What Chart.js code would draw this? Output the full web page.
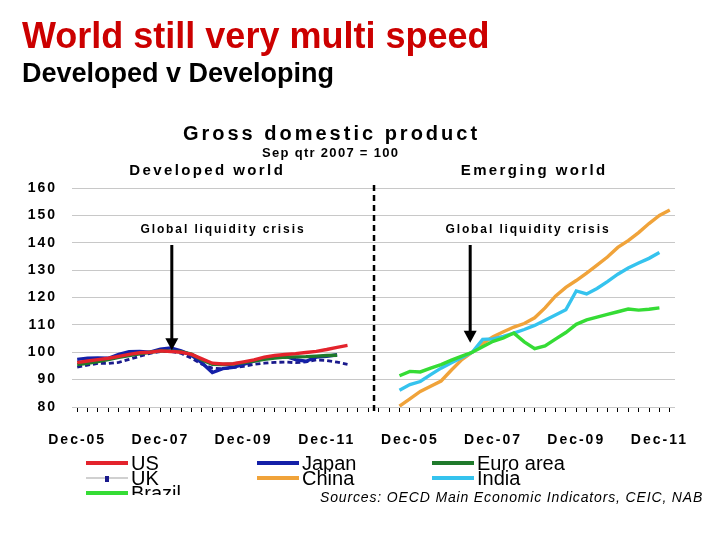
<!DOCTYPE html>
<html lang="en">
<head>
    <meta charset="UTF-8">
    <title>World still very multi speed</title>
    <script src="https://cdn.jsdelivr.net/npm/chart.js"></script>
    <style>
        body { margin: 0; background: #fff; font-family: "Liberation Sans", Arial, sans-serif; }
        .page { position: relative; width: 720px; height: 540px; overflow: hidden; }
        #grafico { position: absolute; left: 0; top: 0; }
        h1 { position: absolute; left: 22px; top: 15px; margin: 0; font-size: 36px; line-height: normal; color: #cc0000; }
        h2 { position: absolute; left: 22px; top: 58px; margin: 0; font-size: 27px; line-height: normal; color: #000; }
        .legend { position: absolute; left: 0; top: 450px; width: 720px; height: 45px; overflow: hidden; }
        .item { position: absolute; height: 16px; display: flex; align-items: center; font-size: 20px; color: #000; white-space: nowrap; }
        .swatch { position: relative; width: 42px; height: 4px; margin-right: 3px; }
        .dot { position: absolute; left: 19px; top: -1px; width: 4px; height: 6px; background: #1a1a8c; }
        .sources { position: absolute; left: 320px; top: 489px; font-size: 14px; font-style: italic; letter-spacing: 0.85px; color: #000; }
    </style>
</head>
<body>
    <div class="page">
        <canvas id="grafico" width="720" height="540"></canvas>
        <h1>World still very multi speed</h1>
        <h2>Developed v Developing</h2>
        <div class="legend" id="legenda"></div>
        <div class="sources">Sources: OECD Main Economic Indicators, CEIC, NAB</div>
    </div>

    <script>
        // quarters: left panel Dec-05..Sep-12, a short gap, right panel Sep-05..Mar-12
        const meses = ['Mar', 'Jun', 'Sep', 'Dec'];
        function trimestres(q, ano, n) {
            const out = [];
            for (let i = 0; i < n; i++) {
                out.push(meses[q] + '-' + String(ano % 100).padStart(2, '0'));
                q++;
                if (q > 3) { q = 0; ano++; }
            }
            return out;
        }
        const leftQuarters = trimestres(3, 2005, 28);
        const gapQuarters = ['', '', ''];
        const rightQuarters = trimestres(2, 2005, 27);
        const quarters = leftQuarters.concat(gapQuarters, rightQuarters);
        const tickLabels = ['Dec-05', 'Dec-07', 'Dec-09', 'Dec-11'];
        const yTicks = [80, 90, 100, 110, 120, 130, 140, 150, 160];

        // Developed world (index, Sep qtr 2007 = 100)
        const us = [96.2, 96.8, 97.3, 97.8, 98.5, 99.2, 99.8, 100.0, 100.5, 100.3, 100.0, 99.2, 97.6, 96.0,
            95.7, 95.8, 96.5, 97.2, 98.2, 98.8, 99.2, 99.5, 99.9, 100.3, 101.0, 101.8, 102.5];
        const japan = [97.4, 97.8, 97.9, 97.8, 99.2, 100.2, 100.3, 100.0, 101.1, 101.6, 100.5, 98.9, 96.1, 92.6,
            94.0, 94.5, 95.6, 96.8, 97.9, 98.5, 98.6, 97.3, 96.7, 98.2, 98.5, 99.1];
        const euroArea = [95.5, 96.0, 96.6, 97.3, 98.1, 98.8, 99.4, 100.0, 100.5, 100.4, 100.2, 99.3, 97.2, 95.6,
            95.5, 95.7, 96.2, 96.8, 97.4, 97.9, 98.2, 98.3, 98.4, 98.6, 98.8, 98.9];
        const uk = [94.6, 95.3, 95.9, 95.9, 96.3, 97.4, 98.5, 99.6, 100.2, 100.3, 99.6, 97.8, 95.6, 94.2,
            94.0, 94.4, 94.8, 95.6, 96.0, 96.3, 96.4, 96.2, 96.5, 97.2, 97.0, 96.4, 95.6];

        // Emerging world
        const china = [80.3, 83.0, 85.7, 87.6, 89.5, 93.5, 97.3, 100.0, 103.2, 105.7, 107.5, 109.2, 110.5, 112.6,
            116.2, 120.5, 123.7, 126.2, 128.9, 131.8, 134.8, 138.3, 140.8, 143.7, 147.0, 150.0, 152.0];
        const india = [86.1, 88.2, 89.3, 91.8, 94.2, 96.2, 98.1, 100.0, 104.7, 104.9, 105.8, 107.0, 108.3, 109.8,
            111.7, 113.6, 115.5, 122.4, 121.3, 123.3, 125.8, 128.5, 130.8, 132.6, 134.3, 136.4];
        const brazil = [91.4, 93.0, 92.8, 94.2, 95.5, 97.1, 98.6, 100.0, 102.0, 104.0, 105.2, 107.0, 103.8, 101.3,
            102.3, 104.8, 107.2, 110.2, 111.8, 112.8, 113.8, 114.8, 115.8, 115.4, 115.7, 116.2];

        const nLeft = leftQuarters.length;
        const rightStart = nLeft + gapQuarters.length;
        function noPainelEsquerdo(vals) {
            return vals.concat(Array(quarters.length - vals.length).fill(null));
        }
        function noPainelDireito(vals) {
            const d = Array(rightStart).fill(null).concat(vals);
            return d.concat(Array(quarters.length - d.length).fill(null));
        }

        const series = [
            { label: 'US', data: noPainelEsquerdo(us), color: '#e3232c' },
            { label: 'Euro area', data: noPainelEsquerdo(euroArea), color: '#1f7a2b' },
            { label: 'Japan', data: noPainelEsquerdo(japan), color: '#1420a8' },
            { label: 'UK', data: noPainelEsquerdo(uk), color: '#1a1a8c', dash: [5, 3] },
            { label: 'Brazil', data: noPainelDireito(brazil), color: '#35dc35' },
            { label: 'India', data: noPainelDireito(india), color: '#35c3ee' },
            { label: 'China', data: noPainelDireito(china), color: '#f0a33a' }
        ];

        // text drawn on the canvas (letter-spaced like the original)
        const textos = [
            { t: 'Gross domestic product', x: 330, y: 140, size: 20, sp: 3 },
            { t: 'Sep qtr 2007 = 100', x: 330, y: 157, size: 13, sp: 1.3 },
            { t: 'Developed world', x: 206, y: 175, size: 15, sp: 2.4 },
            { t: 'Emerging world', x: 533, y: 175, size: 15, sp: 2.4 },
            { t: 'Global liquidity crisis', x: 222, y: 233, size: 12, sp: 1.9 },
            { t: 'Global liquidity crisis', x: 527, y: 233, size: 12, sp: 1.9 }
        ];

        const overlay = {
            id: 'overlay',
            beforeDraw(chart) {
                const c = chart.ctx;
                c.save();
                c.fillStyle = '#fff';
                c.fillRect(0, 0, chart.width, chart.height);
                c.restore();
                c.letterSpacing = '2px';
            },
            afterDraw(chart) {
                const c = chart.ctx;
                const { chartArea, scales } = chart;
                c.letterSpacing = '0px';
                c.save();

                // dashed divider between panels
                const xd = scales.x.getPixelForValue(28.55);
                c.strokeStyle = '#000';
                c.lineWidth = 2.5;
                c.setLineDash([6, 4]);
                c.beginPath();
                c.moveTo(xd, chartArea.top - 3);
                c.lineTo(xd, chartArea.bottom + 4);
                c.stroke();
                c.setLineDash([]);

                // arrows pointing to the crisis
                function seta(xv, yv) {
                    const px = scales.x.getPixelForValue(xv);
                    const py = scales.y.getPixelForValue(yv);
                    c.fillStyle = '#000';
                    c.fillRect(px - 1.5, 245, 3, py - 245 - 11);
                    c.beginPath();
                    c.moveTo(px - 6.5, py - 12);
                    c.lineTo(px + 6.5, py - 12);
                    c.lineTo(px, py);
                    c.closePath();
                    c.fill();
                }
                seta(9.1, 100.7);
                seta(37.8, 103.5);

                c.fillStyle = '#000';
                c.textAlign = 'center';
                c.textBaseline = 'alphabetic';
                textos.forEach(o => {
                    c.font = 'bold ' + o.size + 'px "Liberation Sans", Arial, sans-serif';
                    c.letterSpacing = o.sp + 'px';
                    c.fillText(o.t, o.x + o.sp / 2, o.y);
                });
                c.letterSpacing = '0px';
                c.restore();
            }
        };

        const ctx = document.getElementById('grafico').getContext('2d');
        new Chart(ctx, {
            type: 'line',
            data: {
                labels: quarters,
                datasets: series.map(s => ({
                    label: s.label,
                    data: s.data,
                    borderColor: s.color,
                    backgroundColor: s.color,
                    borderWidth: s.dash ? 2.8 : 3.4,
                    borderDash: s.dash || [],
                    pointRadius: 0,
                    tension: 0,
                    spanGaps: false
                }))
            },
            options: {
                responsive: false,
                animation: false,
                layout: { padding: { top: 188, right: 45, bottom: 83, left: 0 } },
                plugins: {
                    legend: { display: false },
                    tooltip: { enabled: false }
                },
                scales: {
                    x: {
                        offset: true,
                        border: { display: false },
                        grid: { drawOnChartArea: false, color: '#000', tickLength: 5, lineWidth: 1 },
                        ticks: {
                            autoSkip: false,
                            maxRotation: 0,
                            minRotation: 0,
                            padding: 20,
                            color: '#000',
                            font: { family: '"Liberation Sans", Arial', size: 14, weight: 'bold' },
                            callback: (v, i) => tickLabels.includes(quarters[i]) ? quarters[i] : ''
                        },
                        afterFit: s => { s.height = 50; }
                    },
                    y: {
                        min: yTicks[0],
                        max: yTicks[yTicks.length - 1],
                        border: { display: false },
                        grid: { color: '#c8c8c8', drawTicks: false },
                        afterBuildTicks: s => { s.ticks = yTicks.map(v => ({ value: v })); },
                        ticks: {
                            padding: 15,
                            color: '#000',
                            font: { family: '"Liberation Sans", Arial', size: 14, weight: 'bold' }
                        },
                        afterFit: s => { s.width = 72; }
                    }
                }
            },
            plugins: [overlay]
        });

        // legend in three columns, like the original
        const legendaOrdem = ['US', 'Japan', 'Euro area', 'UK', 'China', 'India', 'Brazil'];
        const colX = [86, 257, 432];
        const rowY = [5, 20, 35];
        const leg = document.getElementById('legenda');
        legendaOrdem.forEach((nome, k) => {
            const s = series.find(d => d.label === nome);
            const el = document.createElement('div');
            el.className = 'item';
            el.style.left = colX[k % 3] + 'px';
            el.style.top = rowY[Math.floor(k / 3)] + 'px';
            const sw = document.createElement('span');
            sw.className = 'swatch';
            if (nome === 'UK') {
                sw.style.background = '#d0d0d0';
                sw.style.height = '2px';
                sw.innerHTML = '<span class="dot"></span>';
            } else {
                sw.style.background = s.color;
            }
            el.appendChild(sw);
            el.appendChild(document.createTextNode(nome));
            leg.appendChild(el);
        });
    </script>
</body>
</html>
